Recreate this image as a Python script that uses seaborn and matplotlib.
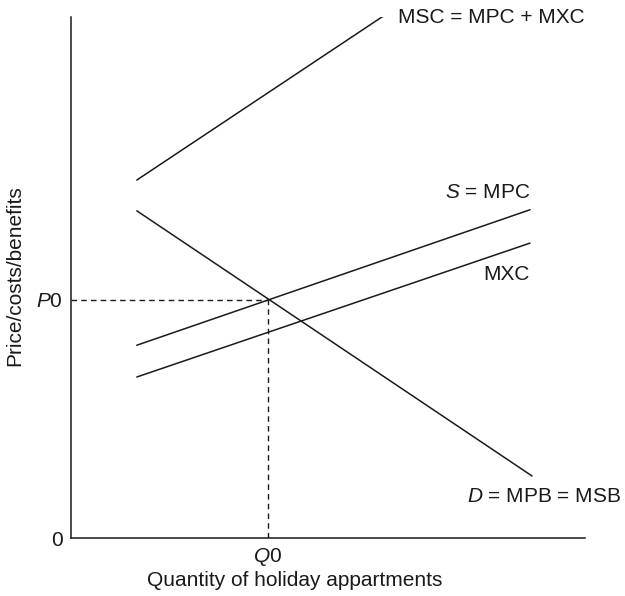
import matplotlib
matplotlib.use("Agg")
import matplotlib.pyplot as plt
import seaborn as sns
import pandas as pd

# ---- data (chart units) ----
quantity_start = [1.28, 8.93]
msc_x = [1.28, 6.11]
msc_y = [6.87, 10.04]
mpc_y = [3.70, 6.30]
mxc_y = [3.09, 5.66]
demand_x = [1.28, 8.97]
demand_y = [6.28, 1.19]
q0 = 3.83
p0 = 4.57

labels = {
    "msc": "MSC = MPC + MXC",
    "mpc": "$S$ = MPC",
    "mxc": "MXC",
    "d": "$D$ = MPB = MSB",
}

sns.set_theme(style="white")
plt.rcParams["font.family"] = ["Liberation Sans", "DejaVu Sans"]
plt.rcParams["mathtext.fontset"] = "custom"
plt.rcParams["mathtext.rm"] = "Liberation Sans"
plt.rcParams["mathtext.it"] = "Liberation Sans:italic"

df = pd.concat([
    pd.DataFrame({"x": msc_x, "y": msc_y, "curve": "MSC"}),
    pd.DataFrame({"x": quantity_start, "y": mpc_y, "curve": "MPC"}),
    pd.DataFrame({"x": quantity_start, "y": mxc_y, "curve": "MXC"}),
    pd.DataFrame({"x": demand_x, "y": demand_y, "curve": "D"}),
])

fig = plt.figure(figsize=(6.25, 5.96), dpi=100)
ax = fig.add_axes([0.1136, 0.0973, 0.8224, 0.8742])

sns.lineplot(data=df, x="x", y="y", units="curve", estimator=None,
             color="#1a1a1a", linewidth=1.1, ax=ax, sort=False)

ax.plot([0, q0], [p0, p0], color="#1a1a1a", lw=1.0, dashes=(4, 3))
ax.plot([q0, q0], [0, p0], color="#1a1a1a", lw=1.0, dashes=(4, 3))

ax.set_xlim(0, 10)
ax.set_ylim(0, 10)
for s in ["top", "right"]:
    ax.spines[s].set_visible(False)
for s in ["left", "bottom"]:
    ax.spines[s].set_color("#1a1a1a")
    ax.spines[s].set_linewidth(1.1)

fs = 15
ax.set_xticks([q0])
ax.set_xticklabels(["$Q$0"])
ax.set_yticks([0, p0])
ax.set_yticklabels(["0", "$P$0"])
ax.tick_params(length=0, labelsize=fs, colors="#1a1a1a", pad=6)

ax.set_xlabel("Quantity of holiday appartments", fontsize=fs, color="#1a1a1a")
ax.xaxis.set_label_coords(0.436, -0.081)
ax.xaxis.label.set_va("center")
ax.set_ylabel("Price/costs/benefits", fontsize=fs, color="#1a1a1a")
ax.yaxis.set_label_coords(-0.109, 0.503)
ax.yaxis.label.set_va("center")

ax.text(msc_x[1] + 0.25, msc_y[1] - 0.05, labels["msc"], fontsize=fs, ha="left", va="center", color="#1a1a1a")
ax.text(quantity_start[1], mpc_y[1] + 0.33, labels["mpc"], fontsize=fs, ha="right", va="center", color="#1a1a1a")
ax.text(quantity_start[1], mxc_y[1] - 0.6, labels["mxc"], fontsize=fs, ha="right", va="center", color="#1a1a1a")
ax.text(demand_x[1] - 1.27, demand_y[1] - 0.4, labels["d"], fontsize=fs, ha="left", va="center", color="#1a1a1a", clip_on=False)

fig.savefig("out.png", dpi=100)
